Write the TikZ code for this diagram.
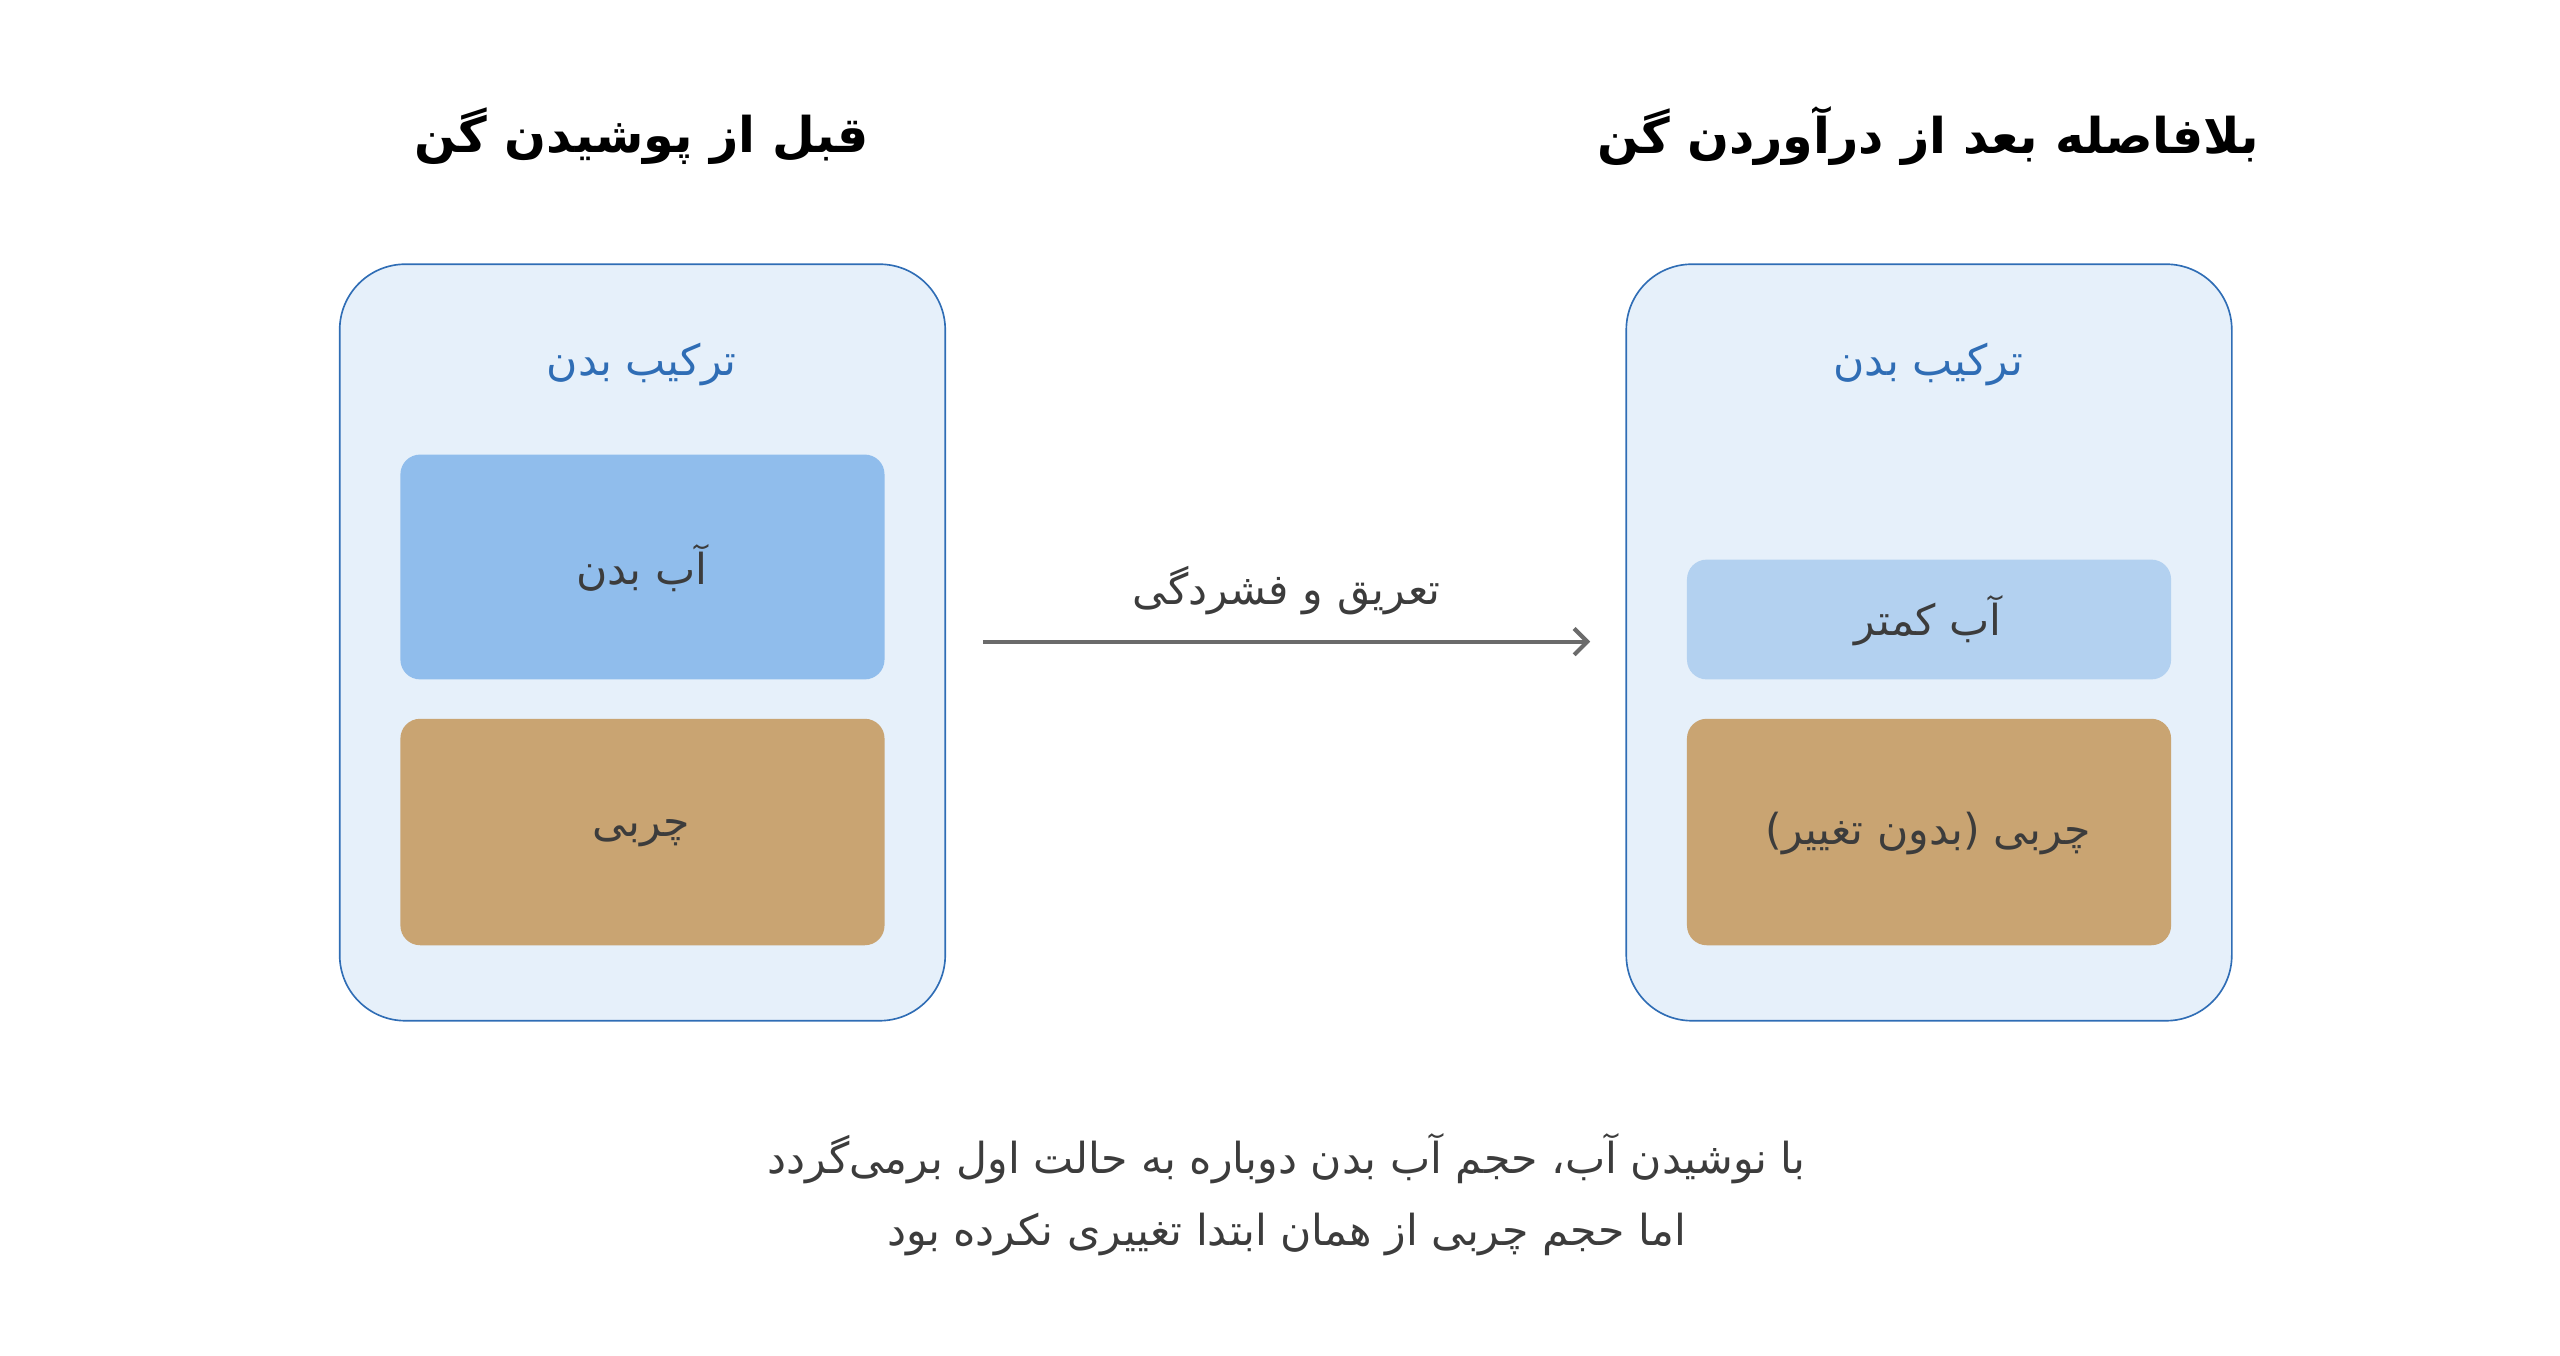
\documentclass[tikz,border=0pt]{standalone}
\usepackage{fontspec}
\usetikzlibrary{arrows.meta}
\newfontfamily\arabicfont[Script=Arabic]{DejaVu Sans}
\TeXXeTstate=1
\definecolor{panelfill}{HTML}{E6F0FA}
\definecolor{paneldraw}{HTML}{2F6DB5}
\definecolor{waterfill}{HTML}{90BDEC}
\definecolor{lesswater}{HTML}{B3D1F0}
\definecolor{fatfill}{HTML}{C9A472}
\definecolor{textgray}{HTML}{3C3C3C}
\definecolor{arrowgray}{HTML}{6B6B6B}
\newcommand{\fa}[1]{\arabicfont\beginR #1\endR}
\begin{document}
\begin{tikzpicture}
  [x=1pt, y=-1pt,
    panel/.style={draw=paneldraw, line width=1pt, fill=panelfill, rounded corners=40pt},
    part/.style={rounded corners=12pt, draw=none},
    lbl/.style={font=\fontsize{26}{30}\selectfont, text=textgray},
    title/.style={font=\fontsize{30}{34}\selectfont\bfseries, text=black},
  ]
  \useasboundingbox (0,0) rectangle (1560,825.7);

  % Titles
  \node[title] (tl) at (391,83) {\fa{قبل از پوشیدن گن}};
  \node[title] (tr) at (1175,83) {\fa{بلافاصله بعد از درآوردن گن}};

  % Left panel
  \draw[panel] (207,161) rectangle (576,622);
  \node[lbl, text=paneldraw] (cl) at (391,222) {\fa{ترکیب بدن}};
  \fill[part, fill=waterfill] (244,277) rectangle (539,414);
  \node[lbl] (wl) at (391,346) {\fa{آب بدن}};
  \fill[part, fill=fatfill] (244,438) rectangle (539,576);
  \node[lbl] (fl) at (391,508) {\fa{چربی}};

  % Right panel
  \draw[panel] (991,161) rectangle (1360,622);
  \node[lbl, text=paneldraw] (cr) at (1175,222) {\fa{ترکیب بدن}};
  \fill[part, fill=lesswater] (1028,341) rectangle (1323,414);
  \node[lbl] (wr) at (1175,378) {\fa{آب کمتر}};
  \fill[part, fill=fatfill] (1028,438) rectangle (1323,576);
  \node[lbl] (fr) at (1175,508) {\fa{چربی (بدون تغییر)}};

  % Arrow
  \coordinate (a1) at (599,391);
  \coordinate (a2) at (969,391);
  \draw[->, >={Straight Barb[length=8pt]}, draw=arrowgray, line width=2.5pt] (a1) -- (a2);
  \node[lbl] (al) at (784,360) {\fa{تعریق و فشردگی}};

  % Note
  \node[lbl] (n1) at (784,706) {\fa{با نوشیدن آب، حجم آب بدن دوباره به حالت اول برمی‌گردد}};
  \node[lbl] (n2) at (784,752) {\fa{اما حجم چربی از همان ابتدا تغییری نکرده بود}};
\end{tikzpicture}
\end{document}
